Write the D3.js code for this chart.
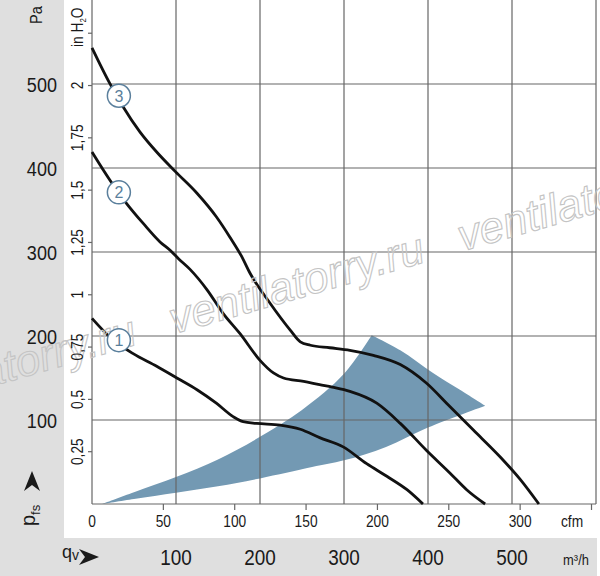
<!DOCTYPE html>
<html>
  <head>
    <title> Fan curve </title>
  </head>
  <body>
    <script src="https://d3js.org/d3.v7.min.js"></script>
    <style>
    body { margin: 0; background-color: #ffffff }
    text { font-family: "Liberation Sans", Arial, sans-serif; fill: #1a1a1a }
    </style>
<script>
// curve data (flow in m3/h, pressure in Pa)
var curve1Q = [0, 21, 49, 77, 101, 125, 148, 168, 180, 196, 224, 248, 271, 299, 327, 351, 375, 394];
var curve1P = [221, 199, 179, 164, 150, 136, 120, 104, 98, 96, 94, 89, 79, 68, 48, 33, 17, 0];

var curve2Q = [0, 21, 41, 61, 81, 93, 103, 117, 137, 156, 176, 200, 216, 228, 252, 271, 286, 307, 339, 367, 398, 426, 446, 468];
var curve2P = [419, 386, 358, 334, 312, 302, 292, 279, 255, 227, 203, 171, 156, 150, 146, 142, 139, 134, 120, 96, 64, 37, 17, 0];

var curve3Q = [0, 21, 37, 57, 77, 99, 125, 148, 164, 178, 188, 212, 236, 248, 260, 283, 307, 335, 367, 398, 426, 454, 486, 510, 532];
var curve3P = [543, 501, 473, 443, 419, 396, 370, 342, 318, 295, 275, 239, 207, 193, 189, 186, 183, 177, 166, 144, 116, 88, 56, 29, 0];

// operating range (blue area)
var rangeLowQ = [12, 50, 100, 150, 200, 262, 300, 350, 400, 468];
var rangeLowP = [0, 6, 13.5, 21, 30.5, 44, 52, 68, 91, 117];
var rangeArcQ = [468, 438, 406, 367, 333];
var rangeArcP = [117, 136, 156, 183, 201];
var rangeHighQ = [333, 300, 250, 200, 150, 100, 50, 12];
var rangeHighP = [201, 155, 112, 80, 53, 32, 14, 0];

// curve number markers
var markerNames = ["1", "2", "3"];
var markerQ = [32, 32, 32];
var markerP = [195, 371, 486];

// tick labels
var paTicks = [100, 200, 300, 400, 500];
var m3hTicks = [100, 200, 300, 400, 500];
var cfmTicks = [0, 50, 100, 150, 200, 250, 300, 350];
var cfmLabels = ["0", "50", "100", "150", "200", "250", "300", ""];
var inchTicks = [0.25, 0.5, 0.75, 1, 1.25, 1.5, 1.75, 2, 2.25];
var inchLabels = ["0,25", "0,5", "0,75", "1", "1,25", "1,5", "1,75", "2", ""];

//Width and height
var w = 600;
var h = 576;
var narrow = " scale(0.86,1)";   // squeeze text a bit, the original uses a condensed face

var x = d3.scaleLinear().domain([0, 600]).range([92, 596]);
var y = d3.scaleLinear().domain([0, 600]).range([504, 0]);
var xCfm = d3.scaleLinear().domain([0, 600 / 1.699]).range([92, 596]);
var yInch = d3.scaleLinear().domain([0, 600 / 249.089]).range([504, 0]);

var svg = d3.select("body")
  .append("svg")
  .attr("width", w)
  .attr("height", h);

// grey frame strips
svg.append("rect").attr("x", 0).attr("y", 0).attr("width", w).attr("height", h).attr("fill", "#ffffff");
svg.append("rect").attr("x", 0).attr("y", 0).attr("width", 64).attr("height", h).attr("fill", "#dfdfdf");
svg.append("rect").attr("x", 0).attr("y", 538).attr("width", 597).attr("height", 38).attr("fill", "#dfdfdf");

// operating range area
var rangePts = [];
rangeLowQ.forEach(function(q, i) { rangePts.push([q, rangeLowP[i]]); });
rangeArcQ.forEach(function(q, i) { rangePts.push([q, rangeArcP[i]]); });
rangeHighQ.forEach(function(q, i) { rangePts.push([q, rangeHighP[i]]); });
svg.append("path")
  .attr("d", d3.line().x(function(d) { return x(d[0]); }).y(function(d) { return y(d[1]); })
    .curve(d3.curveCatmullRom)(rangePts))
  .attr("fill", "#7399b3")
  .attr("stroke", "none");

// grid
var grid = svg.append("g").attr("stroke", "#666666").attr("stroke-width", 1.2);
grid.selectAll(".vg").data(m3hTicks).enter().append("line")
  .attr("x1", function(d) { return x(d); }).attr("x2", function(d) { return x(d); })
  .attr("y1", 0).attr("y2", 504);
grid.selectAll(".hg").data(paTicks).enter().append("line")
  .attr("x1", 92).attr("x2", 596)
  .attr("y1", function(d) { return y(d); }).attr("y2", function(d) { return y(d); });
// frame: left, bottom, right
grid.append("line").attr("x1", 92).attr("x2", 92).attr("y1", 0).attr("y2", 504);
grid.append("line").attr("x1", 92).attr("x2", 596).attr("y1", 504).attr("y2", 504);
grid.append("line").attr("x1", 596).attr("x2", 596).attr("y1", 0).attr("y2", 504);

// in H2O ticks
grid.selectAll(".it").data(inchTicks).enter().append("line")
  .attr("x1", 88).attr("x2", 92)
  .attr("y1", function(d) { return yInch(d); }).attr("y2", function(d) { return yInch(d); });
// cfm ticks
grid.selectAll(".ct").data(cfmTicks.slice(1)).enter().append("line")
  .attr("x1", function(d) { return xCfm(d); }).attr("x2", function(d) { return xCfm(d); })
  .attr("y1", 504).attr("y2", 510);

// fan curves
var line = d3.line().x(function(d) { return x(d[0]); }).y(function(d) { return y(d[1]); })
  .curve(d3.curveMonotoneX);
var curves = [[curve1Q, curve1P], [curve2Q, curve2P], [curve3Q, curve3P]];
svg.selectAll(".curve").data(curves).enter().append("path")
  .attr("d", function(c) { return line(c[0].map(function(q, i) { return [q, c[1][i]]; })); })
  .attr("fill", "none")
  .attr("stroke", "#111111")
  .attr("stroke-width", 2.8);

// watermark
var wm = svg.append("g").attr("transform", "translate(174,334) rotate(-16)");
wm.selectAll("text").data([-300, 0, 300]).enter().append("text")
  .attr("x", function(d) { return d; })
  .attr("y", 0)
  .text("ventilatorry.ru")
  .style("font-style", "italic")
  .style("font-size", "44px")
  .style("fill", "none")
  .style("stroke", "#c4c4c4")
  .style("stroke-width", 1.1);

// curve markers
var mk = svg.selectAll(".mk").data(markerNames).enter().append("g")
  .attr("transform", function(d, i) { return "translate(" + x(markerQ[i]) + "," + y(markerP[i]) + ")"; });
mk.append("circle").attr("r", 11.5).attr("fill", "#ffffff").attr("stroke", "#5a7f9c").attr("stroke-width", 1.5);
mk.append("text").text(function(d) { return d; })
  .attr("text-anchor", "middle").attr("dy", "0.36em")
  .style("font-size", "16px").style("fill", "#5a7f9c");

// Pa labels
svg.selectAll(".pa").data(paTicks).enter().append("text")
  .attr("transform", function(d) { return "translate(57," + y(d) + ")" + narrow; })
  .attr("dy", "0.36em").attr("text-anchor", "end")
  .style("font-size", "21px")
  .text(function(d) { return d; });
svg.append("text").attr("transform", "translate(42,24) rotate(-90)" + narrow)
  .style("font-size", "17px").text("Pa");

// in H2O labels
svg.selectAll(".inch").data(inchTicks).enter().append("text")
  .attr("transform", function(d) { return "translate(83," + yInch(d) + ") rotate(-90)" + narrow; })
  .attr("text-anchor", "middle")
  .style("font-size", "16px")
  .text(function(d, i) { return inchLabels[i]; });
var ih = svg.append("text").attr("transform", "translate(83,47) rotate(-90)" + narrow).style("font-size", "16px");
ih.append("tspan").text("in H");
ih.append("tspan").attr("dy", 3).style("font-size", "9px").text("2");
ih.append("tspan").attr("dy", -3).text("O");

// cfm labels
svg.selectAll(".cfm").data(cfmTicks).enter().append("text")
  .attr("transform", function(d) { return "translate(" + xCfm(d) + ",527)" + narrow; })
  .attr("text-anchor", "middle")
  .style("font-size", "16px")
  .text(function(d, i) { return cfmLabels[i]; });
svg.append("text").attr("transform", "translate(572,527)" + narrow).attr("text-anchor", "middle")
  .style("font-size", "16px").text("cfm");

// m3/h labels
svg.selectAll(".m3").data(m3hTicks).enter().append("text")
  .attr("transform", function(d) { return "translate(" + x(d) + ",565)" + narrow; })
  .attr("text-anchor", "middle")
  .style("font-size", "22px")
  .text(function(d) { return d; });
svg.append("text").attr("transform", "translate(576,565)" + narrow).attr("text-anchor", "middle")
  .style("font-size", "15px").text("m³/h");

// axis symbols
var pf = svg.append("text").attr("transform", "translate(35,526) rotate(-90)").style("font-size", "20px");
pf.append("tspan").text("p");
pf.append("tspan").attr("dy", 5).style("font-size", "13px").text("fs");
svg.append("path").attr("d", "M32,471 L40,491 L32,485 L24,491 Z").attr("fill", "#1a1a1a");

var qv = svg.append("text").attr("x", 62).attr("y", 558).style("font-size", "18px");
qv.append("tspan").text("q");
qv.append("tspan").attr("dy", 2).style("font-size", "14px").text("v");
svg.append("path").attr("d", "M99,557 L79,549 L85,557 L79,565 Z").attr("fill", "#1a1a1a");
</script>
  </body>
</html>
